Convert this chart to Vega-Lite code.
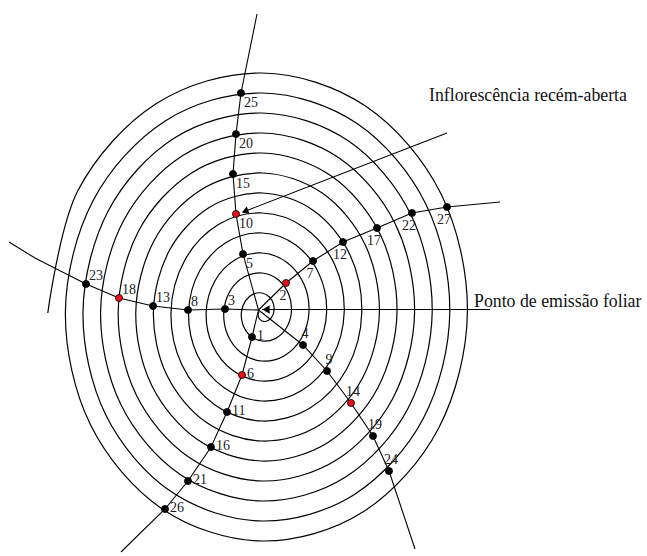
{
"$schema": "https://vega.github.io/schema/vega-lite/v6.json",
"width": 647, "height": 556, "padding": 0, "autosize": {"type": "none"},
"background": "white",
"config": {"view": {"stroke": null}},
"datasets": {
"spiral": [
{"n":0,"x":259,"y":312},{"n":1,"x":258.1,"y":314.8},{"n":2,"x":259,"y":318.3},{"n":3,"x":262,"y":321},{"n":4,"x":266.4,"y":321.2},{"n":5,"x":271,"y":318.2},{"n":6,"x":273.8,"y":312},{"n":7,"x":273.5,"y":304.2},{"n":8,"x":269.4,"y":297},{"n":9,"x":262,"y":293},{"n":10,"x":253.2,"y":294.1},{"n":11,"x":245.4,"y":300.8},
{"n":12,"x":241.4,"y":312},{"n":13,"x":242.9,"y":324.8},{"n":14,"x":250.2,"y":335.7},{"n":15,"x":262,"y":341},{"n":16,"x":275.2,"y":338.6},{"n":17,"x":286.2,"y":328.2},{"n":18,"x":291.4,"y":312},{"n":19,"x":288.7,"y":294.2},{"n":20,"x":278.2,"y":279.7},{"n":21,"x":262,"y":273},{"n":22,"x":244.4,"y":276.8},{"n":23,"x":230.2,"y":290.8},
{"n":24,"x":223.8,"y":312},{"n":25,"x":227.6,"y":334.8},{"n":26,"x":241.4,"y":353},{"n":27,"x":262,"y":361},{"n":28,"x":284,"y":355.9},{"n":29,"x":301.4,"y":338.2},{"n":30,"x":309,"y":312},{"n":31,"x":304,"y":284.2},{"n":32,"x":287,"y":262.4},{"n":33,"x":262,"y":253},{"n":34,"x":235.6,"y":259.5},{"n":35,"x":215,"y":280.8},
{"n":36,"x":206.2,"y":312},{"n":37,"x":212.4,"y":344.8},{"n":38,"x":232.6,"y":370.3},{"n":39,"x":262,"y":381},{"n":40,"x":292.8,"y":373.2},{"n":41,"x":316.7,"y":348.2},{"n":42,"x":326.6,"y":312},{"n":43,"x":319.2,"y":274.2},{"n":44,"x":295.8,"y":245},{"n":45,"x":262,"y":233},{"n":46,"x":226.8,"y":242.1},{"n":47,"x":199.7,"y":270.8},
{"n":48,"x":188.6,"y":312},{"n":49,"x":197.2,"y":354.8},{"n":50,"x":223.8,"y":387.6},{"n":51,"x":262,"y":401},{"n":52,"x":301.6,"y":390.5},{"n":53,"x":331.9,"y":358.2},{"n":54,"x":344.2,"y":312},{"n":55,"x":334.5,"y":264.2},{"n":56,"x":304.6,"y":227.7},{"n":57,"x":262,"y":213},{"n":58,"x":218,"y":224.8},{"n":59,"x":184.5,"y":260.8},
{"n":60,"x":171,"y":312},{"n":61,"x":181.9,"y":364.8},{"n":62,"x":215,"y":405},{"n":63,"x":262,"y":421},{"n":64,"x":310.4,"y":407.8},{"n":65,"x":347.2,"y":368.2},{"n":66,"x":361.8,"y":312},{"n":67,"x":349.7,"y":254.2},{"n":68,"x":313.4,"y":210.4},{"n":69,"x":262,"y":193},{"n":70,"x":209.2,"y":207.5},{"n":71,"x":169.2,"y":250.8},
{"n":72,"x":153.4,"y":312},{"n":73,"x":166.7,"y":374.8},{"n":74,"x":206.2,"y":422.3},{"n":75,"x":262,"y":441},{"n":76,"x":319.2,"y":425.2},{"n":77,"x":362.4,"y":378.2},{"n":78,"x":379.4,"y":312},{"n":79,"x":364.9,"y":244.2},{"n":80,"x":322.2,"y":193.1},{"n":81,"x":262,"y":173},{"n":82,"x":200.4,"y":190.2},{"n":83,"x":154,"y":240.8},
{"n":84,"x":135.8,"y":312},{"n":85,"x":151.4,"y":384.8},{"n":86,"x":197.4,"y":439.6},{"n":87,"x":262,"y":461},{"n":88,"x":328,"y":442.5},{"n":89,"x":377.6,"y":388.2},{"n":90,"x":397,"y":312},{"n":91,"x":380.2,"y":234.2},{"n":92,"x":331,"y":175.8},{"n":93,"x":262,"y":153},{"n":94,"x":191.6,"y":172.9},{"n":95,"x":138.7,"y":230.8},
{"n":96,"x":118.2,"y":312},{"n":97,"x":136.2,"y":394.8},{"n":98,"x":188.6,"y":456.9},{"n":99,"x":262,"y":481},{"n":100,"x":336.8,"y":459.8},{"n":101,"x":392.9,"y":398.2},{"n":102,"x":414.6,"y":312},{"n":103,"x":395.4,"y":224.2},{"n":104,"x":339.8,"y":158.4},{"n":105,"x":262,"y":133},{"n":106,"x":182.8,"y":155.5},{"n":107,"x":123.5,"y":220.8},
{"n":108,"x":100.6,"y":312},{"n":109,"x":121,"y":404.8},{"n":110,"x":179.8,"y":474.2},{"n":111,"x":262,"y":501},{"n":112,"x":345.6,"y":477.1},{"n":113,"x":408.1,"y":408.2},{"n":114,"x":432.2,"y":312},{"n":115,"x":410.7,"y":214.2},{"n":116,"x":348.6,"y":141.1},{"n":117,"x":262,"y":113},{"n":118,"x":174,"y":138.2},{"n":119,"x":108.3,"y":210.8},
{"n":120,"x":83,"y":312},{"n":121,"x":105.7,"y":414.8},{"n":122,"x":171,"y":491.6},{"n":123,"x":262,"y":521},{"n":124,"x":354.4,"y":494.4},{"n":125,"x":423.4,"y":418.2},{"n":126,"x":449.8,"y":312},{"n":127,"x":425.9,"y":204.2},{"n":128,"x":357.4,"y":123.8},{"n":129,"x":262,"y":93},{"n":130,"x":165.2,"y":120.9},{"n":131,"x":93,"y":200.8},
{"n":132,"x":65.4,"y":312},{"n":133,"x":90.5,"y":424.8},{"n":134,"x":162.2,"y":508.9},{"n":135,"x":262,"y":541},{"n":136,"x":363.2,"y":511.8},{"n":137,"x":438.6,"y":428.2},{"n":138,"x":467.4,"y":312},{"n":139,"x":441.2,"y":194.2},{"n":140,"x":366.2,"y":106.5},{"n":141,"x":262,"y":73},{"n":142,"x":156.4,"y":103.6},{"n":143,"x":77.8,"y":190.8},
{"n":144,"x":47.8,"y":313}
],
"arms": [
{"arm":"A","o":0,"x":257,"y":14},{"arm":"A","o":1,"x":241,"y":93},{"arm":"A","o":2,"x":236,"y":134},{"arm":"A","o":3,"x":233,"y":174},{"arm":"A","o":4,"x":236,"y":214},{"arm":"A","o":5,"x":243,"y":254},{"arm":"A","o":6,"x":258.5,"y":310},{"arm":"A","o":7,"x":252,"y":337},{"arm":"A","o":8,"x":242,"y":375},{"arm":"A","o":9,"x":227,"y":412},{"arm":"A","o":10,"x":211,"y":447},{"arm":"A","o":11,"x":188,"y":481},{"arm":"A","o":12,"x":165,"y":509},{"arm":"A","o":13,"x":121,"y":552},
{"arm":"B","o":0,"x":258.5,"y":310},{"arm":"B","o":1,"x":286,"y":283},{"arm":"B","o":2,"x":313,"y":261},{"arm":"B","o":3,"x":343,"y":242},{"arm":"B","o":4,"x":377,"y":228},{"arm":"B","o":5,"x":412,"y":213},{"arm":"B","o":6,"x":447,"y":207},{"arm":"B","o":7,"x":500,"y":202},
{"arm":"C","o":0,"x":258.5,"y":310},{"arm":"C","o":1,"x":225,"y":309},{"arm":"C","o":2,"x":188,"y":310},{"arm":"C","o":3,"x":153,"y":306},{"arm":"C","o":4,"x":119,"y":298},{"arm":"C","o":5,"x":86,"y":284},{"arm":"C","o":6,"x":35,"y":258},{"arm":"C","o":7,"x":9,"y":242},
{"arm":"D","o":0,"x":258.5,"y":310},{"arm":"D","o":1,"x":303,"y":345},{"arm":"D","o":2,"x":327,"y":371},{"arm":"D","o":3,"x":351,"y":403},{"arm":"D","o":4,"x":373,"y":436},{"arm":"D","o":5,"x":389,"y":471},{"arm":"D","o":6,"x":415,"y":549},
{"arm":"H","o":0,"x":262,"y":309.5},{"arm":"H","o":1,"x":490,"y":309.5},
{"arm":"P","o":0,"x":447,"y":133},{"arm":"P","o":1,"x":243,"y":212}
],
"dots": [
{"id":"1","x":252,"y":337,"arm":"Adown","kind":"folha"},
{"id":"2","x":286,"y":283,"arm":"B","kind":"inflorescencia"},
{"id":"3","x":225,"y":309,"arm":"C","kind":"folha"},
{"id":"4","x":303,"y":345,"arm":"D","kind":"folha"},
{"id":"5","x":243,"y":254,"arm":"Aup","kind":"folha"},
{"id":"6","x":242,"y":375,"arm":"Adown","kind":"inflorescencia"},
{"id":"7","x":313,"y":261,"arm":"B","kind":"folha"},
{"id":"8","x":188,"y":310,"arm":"C","kind":"folha"},
{"id":"9","x":327,"y":371,"arm":"D","kind":"folha"},
{"id":"10","x":236,"y":214,"arm":"Aup","kind":"inflorescencia"},
{"id":"11","x":227,"y":412,"arm":"Adown","kind":"folha"},
{"id":"12","x":343,"y":242,"arm":"B","kind":"folha"},
{"id":"13","x":153,"y":306,"arm":"C","kind":"folha"},
{"id":"14","x":351,"y":403,"arm":"D","kind":"inflorescencia"},
{"id":"15","x":233,"y":174,"arm":"Aup","kind":"folha"},
{"id":"16","x":211,"y":447,"arm":"Adown","kind":"folha"},
{"id":"17","x":377,"y":228,"arm":"B","kind":"folha"},
{"id":"18","x":119,"y":298,"arm":"C","kind":"inflorescencia"},
{"id":"19","x":373,"y":436,"arm":"D","kind":"folha"},
{"id":"20","x":236,"y":134,"arm":"Aup","kind":"folha"},
{"id":"21","x":188,"y":481,"arm":"Adown","kind":"folha"},
{"id":"22","x":412,"y":213,"arm":"B","kind":"folha"},
{"id":"23","x":86,"y":284,"arm":"C","kind":"folha"},
{"id":"24","x":389,"y":471,"arm":"D","kind":"folha"},
{"id":"25","x":241,"y":93,"arm":"Aup","kind":"folha"},
{"id":"26","x":165,"y":509,"arm":"Adown","kind":"folha"},
{"id":"27","x":447,"y":207,"arm":"B","kind":"folha"}
],
"notes": [
{"t":"Inflorescência recém-aberta","x":429,"y":96},
{"t":"Ponto de emissão foliar","x":474,"y":302}
],
"heads": [
{"h":"centro","x":266,"y":309.5},
{"h":"seta","x":245,"y":211.3}
]
},
"layer": [
{"data":{"name":"spiral"},
 "mark":{"type":"line","interpolate":"cardinal","stroke":"#000","strokeWidth":1.2},
 "encoding":{
  "x":{"field":"x","type":"quantitative","scale":{"domain":[0,647],"nice":false,"zero":false},"axis":null},
  "y":{"field":"y","type":"quantitative","scale":{"domain":[0,556],"nice":false,"zero":false,"reverse":true},"axis":null},
  "order":{"field":"n","type":"quantitative"}}},
{"data":{"name":"arms"},
 "mark":{"type":"line","stroke":"#000","strokeWidth":1.1},
 "encoding":{
  "x":{"field":"x","type":"quantitative","scale":{"domain":[0,647],"nice":false,"zero":false},"axis":null},
  "y":{"field":"y","type":"quantitative","scale":{"domain":[0,556],"nice":false,"zero":false,"reverse":true},"axis":null},
  "detail":{"field":"arm"},
  "order":{"field":"o","type":"quantitative"}}},
{"data":{"name":"dots"},
 "mark":{"type":"point","shape":"circle","filled":true,"size":50,"stroke":"#000","strokeWidth":0.8,"opacity":1},
 "encoding":{
  "x":{"field":"x","type":"quantitative","scale":{"domain":[0,647],"nice":false,"zero":false},"axis":null},
  "y":{"field":"y","type":"quantitative","scale":{"domain":[0,556],"nice":false,"zero":false,"reverse":true},"axis":null},
  "fill":{"field":"kind","type":"nominal","scale":{"domain":["folha","inflorescencia"],"range":["#000000","#e8101a"]},"legend":null}}},
{"data":{"name":"heads"},
 "transform":[{"filter":"datum.h == 'centro'"}],
 "mark":{"type":"point","shape":"triangle-left","filled":true,"size":70,"color":"#000","opacity":1},
 "encoding":{
  "x":{"field":"x","type":"quantitative","scale":{"domain":[0,647],"nice":false,"zero":false},"axis":null},
  "y":{"field":"y","type":"quantitative","scale":{"domain":[0,556],"nice":false,"zero":false,"reverse":true},"axis":null}}},
{"data":{"name":"heads"},
 "transform":[{"filter":"datum.h == 'seta'"}],
 "mark":{"type":"point","shape":"triangle-left","filled":true,"size":60,"angle":-21,"color":"#000","opacity":1},
 "encoding":{
  "x":{"field":"x","type":"quantitative","scale":{"domain":[0,647],"nice":false,"zero":false},"axis":null},
  "y":{"field":"y","type":"quantitative","scale":{"domain":[0,556],"nice":false,"zero":false,"reverse":true},"axis":null}}},
{"data":{"name":"dots"},
 "transform":[{"filter":"datum.arm == 'Aup'"}],
 "mark":{"type":"text","font":"Liberation Serif","fontSize":14,"color":"#222","align":"left","baseline":"middle","dx":3,"dy":10},
 "encoding":{
  "x":{"field":"x","type":"quantitative","scale":{"domain":[0,647],"nice":false,"zero":false},"axis":null},
  "y":{"field":"y","type":"quantitative","scale":{"domain":[0,556],"nice":false,"zero":false,"reverse":true},"axis":null},
  "text":{"field":"id"}}},
{"data":{"name":"dots"},
 "transform":[{"filter":"datum.arm == 'Adown'"}],
 "mark":{"type":"text","font":"Liberation Serif","fontSize":14,"color":"#222","align":"left","baseline":"middle","dx":5,"dy":-1},
 "encoding":{
  "x":{"field":"x","type":"quantitative","scale":{"domain":[0,647],"nice":false,"zero":false},"axis":null},
  "y":{"field":"y","type":"quantitative","scale":{"domain":[0,556],"nice":false,"zero":false,"reverse":true},"axis":null},
  "text":{"field":"id"}}},
{"data":{"name":"dots"},
 "transform":[{"filter":"datum.arm == 'B'"}],
 "mark":{"type":"text","font":"Liberation Serif","fontSize":14,"color":"#222","align":"center","baseline":"middle","dx":-3,"dy":13},
 "encoding":{
  "x":{"field":"x","type":"quantitative","scale":{"domain":[0,647],"nice":false,"zero":false},"axis":null},
  "y":{"field":"y","type":"quantitative","scale":{"domain":[0,556],"nice":false,"zero":false,"reverse":true},"axis":null},
  "text":{"field":"id"}}},
{"data":{"name":"dots"},
 "transform":[{"filter":"datum.arm == 'C'"}],
 "mark":{"type":"text","font":"Liberation Serif","fontSize":14,"color":"#222","align":"left","baseline":"middle","dx":3,"dy":-8},
 "encoding":{
  "x":{"field":"x","type":"quantitative","scale":{"domain":[0,647],"nice":false,"zero":false},"axis":null},
  "y":{"field":"y","type":"quantitative","scale":{"domain":[0,556],"nice":false,"zero":false,"reverse":true},"axis":null},
  "text":{"field":"id"}}},
{"data":{"name":"dots"},
 "transform":[{"filter":"datum.arm == 'D'"}],
 "mark":{"type":"text","font":"Liberation Serif","fontSize":14,"color":"#222","align":"center","baseline":"middle","dx":2,"dy":-11},
 "encoding":{
  "x":{"field":"x","type":"quantitative","scale":{"domain":[0,647],"nice":false,"zero":false},"axis":null},
  "y":{"field":"y","type":"quantitative","scale":{"domain":[0,556],"nice":false,"zero":false,"reverse":true},"axis":null},
  "text":{"field":"id"}}},
{"data":{"name":"notes"},
 "mark":{"type":"text","font":"Liberation Serif, serif","fontSize":17.8,"color":"#111","align":"left","baseline":"middle"},
 "encoding":{
  "x":{"field":"x","type":"quantitative","scale":{"domain":[0,647],"nice":false,"zero":false},"axis":null},
  "y":{"field":"y","type":"quantitative","scale":{"domain":[0,556],"nice":false,"zero":false,"reverse":true},"axis":null},
  "text":{"field":"t"}}}
]
}
